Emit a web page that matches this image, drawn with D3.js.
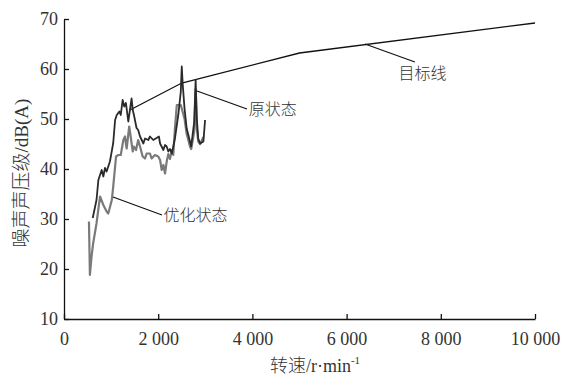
<!DOCTYPE html>
<html>
<head>
<meta charset="utf-8">
<script src="https://cdn.jsdelivr.net/npm/d3@7"></script>
<style>
  body { margin: 0; background: #fff; }
  text { font-family: "Liberation Serif", "Noto Sans CJK SC", serif; fill: #333; }
</style>
</head>
<body>
<svg id="chart"></svg>
<script>
// tick values
const xTicks = [0, 2000, 4000, 6000, 8000, 10000];
const yTicks = [10, 20, 30, 40, 50, 60, 70];

// 原状态 (rpm, dB(A))
const originalState = [
    [610, 30.2], [690, 33.8], [730, 37.8], [800, 39.8], [835, 38.5], [870, 40.2],
    [905, 39.5], [975, 41.5], [1045, 45.2], [1085, 49.8], [1120, 50.8], [1175, 51.5],
    [1205, 50.8], [1245, 53.8], [1280, 52.5], [1315, 53.2], [1365, 49.5], [1400, 51.8],
    [1435, 54.1], [1460, 51.8], [1485, 50.8], [1540, 48.2], [1575, 47.8], [1615, 46.5],
    [1685, 45.1], [1720, 46.1], [1790, 45.8], [1825, 46.5], [1895, 45.8], [1965, 46.2],
    [2015, 46.5], [2040, 45.1], [2110, 43.8], [2145, 44.8], [2180, 44.5], [2215, 43.5],
    [2250, 44.0], [2290, 43.1], [2355, 46.1], [2430, 51.1], [2480, 55.5], [2500, 60.5],
    [2520, 57.0], [2560, 52.0], [2605, 48.1], [2675, 45.5], [2700, 44.5], [2765, 49.5],
    [2795, 57.8], [2820, 50.1], [2850, 46.1], [2890, 45.1], [2960, 45.5], [2995, 49.8]
];

// 优化状态
const optimizedState = [
    [530, 29.5], [550, 18.8], [585, 22.5], [620, 25.2], [690, 29.1], [765, 34.5],
    [835, 32.8], [905, 31.5], [940, 31.1], [1015, 33.8], [1045, 36.5], [1105, 42.5],
    [1155, 42.8], [1205, 42.8], [1260, 45.8], [1295, 46.5], [1330, 44.1], [1385, 48.5],
    [1415, 46.5], [1460, 43.5], [1485, 44.5], [1530, 43.8], [1575, 45.8], [1615, 44.5],
    [1670, 42.5], [1720, 42.1], [1755, 43.1], [1825, 43.1], [1860, 42.1], [1930, 42.8],
    [2000, 42.5], [2040, 41.8], [2075, 39.8], [2110, 40.8], [2145, 39.1], [2180, 41.5],
    [2215, 43.0], [2250, 42.0], [2290, 43.8], [2320, 42.8], [2355, 48.1], [2395, 52.8],
    [2480, 52.8], [2560, 50.0], [2605, 47.0], [2675, 44.5], [2700, 44.0], [2765, 47.5],
    [2795, 56.0], [2820, 48.0], [2850, 45.5], [2890, 45.0], [2960, 46.4]
];

// 目标线
const targetLine = [[1400, 51.8], [2500, 57.2], [5000, 63.2], [10000, 69.2]];

const width = 566, height = 376;
const svg = d3.select("#chart").attr("width", width).attr("height", height);

const x = d3.scaleLinear().domain([0, 10000]).range([64, 535]);
const y = d3.scaleLinear().domain([10, 70]).range([319, 19]);

const fmt = d => d3.format(",")(d).replace(/,/g, " ");

//axes, ticks point inward
const xAxis = svg.append("g")
    .attr("transform", "translate(0," + y(10) + ")")
    .call(d3.axisBottom(x).tickValues(xTicks).tickSizeInner(-5).tickSizeOuter(0).tickPadding(13).tickFormat(fmt));

const yAxis = svg.append("g")
    .attr("transform", "translate(" + x(0) + ",0)")
    .call(d3.axisLeft(y).tickValues(yTicks).tickSizeInner(-5).tickSizeOuter(0).tickPadding(6));

[xAxis, yAxis].forEach(a => {
    a.select(".domain").attr("stroke", "#111").attr("stroke-width", 1.3);
    a.selectAll(".tick line").attr("stroke", "#111").attr("stroke-width", 1.3);
    a.selectAll(".tick text").attr("font-size", 18).attr("fill", "#333")
        .style("font-family", "'Liberation Serif', serif");
});

const line = d3.line().x(d => x(d[0])).y(d => y(d[1]));

svg.append("path").datum(targetLine)
    .attr("fill", "none").attr("stroke", "#111").attr("stroke-width", 1.3).attr("d", line);

svg.append("path").datum(optimizedState)
    .attr("fill", "none").attr("stroke", "#7a7a7a").attr("stroke-width", 2.2).attr("stroke-linejoin", "round").attr("d", line);

svg.append("path").datum(originalState)
    .attr("fill", "none").attr("stroke", "#2a2a2a").attr("stroke-width", 1.8).attr("stroke-linejoin", "round").attr("d", line);

// leader lines and labels
const notes = [
    {text: "目标线", from: [6390, 65.0], to: [7450, 61.4], tx: 7100, ty: 58.0},
    {text: "原状态", from: [2824, 55.6], to: [3885, 52.0], tx: 3920, ty: 50.8},
    {text: "优化状态", from: [1040, 34.4], to: [2080, 30.8], tx: 2110, ty: 29.6}
];
notes.forEach(n => {
    svg.append("line")
        .attr("x1", x(n.from[0])).attr("y1", y(n.from[1]))
        .attr("x2", x(n.to[0])).attr("y2", y(n.to[1]))
        .attr("stroke", "#111").attr("stroke-width", 1.2);
    svg.append("text")
        .attr("x", x(n.tx)).attr("y", y(n.ty))
        .attr("font-size", 16)
        .attr("font-weight", 300)
        .text(n.text);
});

// axis titles
svg.append("text")
    .attr("transform", "translate(28,173) rotate(-90)")
    .attr("text-anchor", "middle")
    .attr("font-size", 19)
    .attr("font-weight", 300)
    .attr("fill", "#444")
    .text("噪声声压级/dB(A)");

const xt = svg.append("text")
    .attr("x", 315).attr("y", 372)
    .attr("text-anchor", "middle")
    .attr("font-size", 18)
    .attr("font-weight", 300);
xt.append("tspan").text("转速/r·min");
xt.append("tspan").attr("font-size", 11).attr("dy", -8).text("-1");
</script>
</body>
</html>
